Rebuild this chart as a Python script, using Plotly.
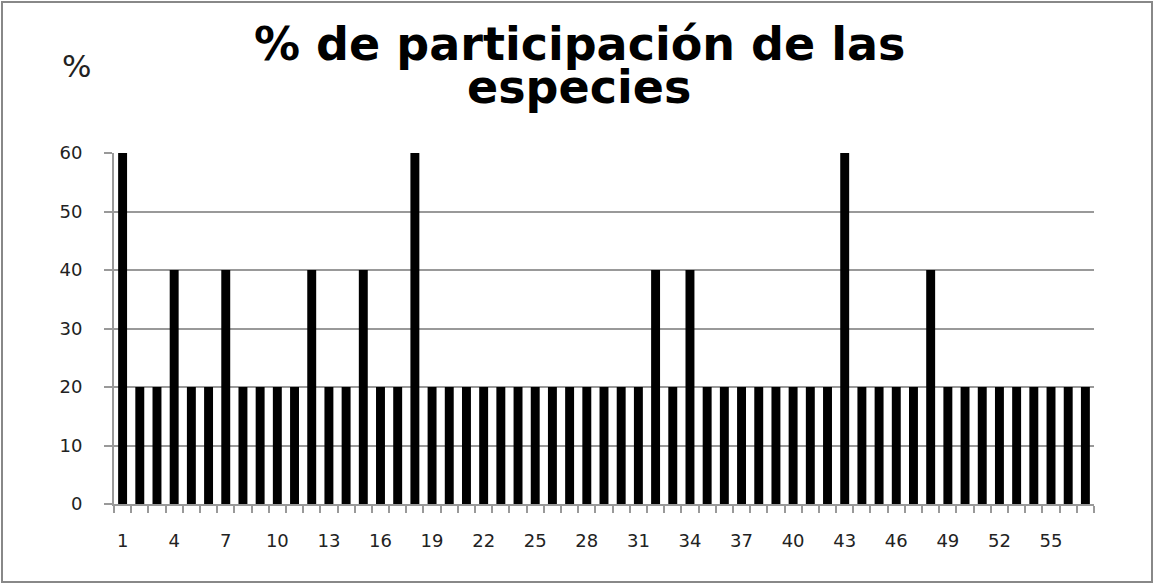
import plotly.graph_objects as go

species = list(range(1, 58))
values = [60, 20, 20, 40, 20, 20, 40, 20, 20, 20, 20, 40, 20, 20, 40, 20, 20, 60,
          20, 20, 20, 20, 20, 20, 20, 20, 20, 20, 20, 20, 20, 40, 20, 40, 20, 20,
          20, 20, 20, 20, 20, 20, 60, 20, 20, 20, 20, 40, 20, 20, 20, 20, 20, 20,
          20, 20, 20]
x_ticks = list(range(1, 56, 3))
y_ticks = [0, 10, 20, 30, 40, 50, 60]
title_lines = ["% de participación de las", "especies"]

W, H = 1154, 584
L, R, T, B = 114, 60, 153, 80
pw, ph = W - L - R, H - T - B

def px(x):
    return (x - L) / pw

def py(y):
    return (H - B - y) / ph

fig = go.Figure(go.Bar(x=species, y=values, marker=dict(color="black", line=dict(width=0)),
                       width=0.52))

grey = "#999999"
tickfont = dict(family="DejaVu Sans", size=18, color="#222222")

fig.update_layout(
    width=W, height=H,
    margin=dict(l=L, r=R, t=T, b=B, autoexpand=False),
    paper_bgcolor="white", plot_bgcolor="white",
    showlegend=False,
    xaxis=dict(range=[0.5, 57.5], tickmode="array", tickvals=x_ticks,
               ticktext=[str(v) for v in x_ticks], ticks="", showgrid=False,
               showline=True, linecolor=grey, linewidth=2, tickfont=tickfont,
               ticklabelstandoff=19, zeroline=False,
               minor=dict(tickmode="array",
                          tickvals=[s - 0.5 for s in species] + [species[-1] + 0.5],
                          ticks="outside", ticklen=7, tickcolor=grey, tickwidth=2,
                          showgrid=False)),
    yaxis=dict(range=[0, 60], tickmode="array", tickvals=y_ticks, ticks="outside",
               ticklen=8, tickcolor=grey, tickwidth=2, showgrid=True, gridcolor=grey,
               gridwidth=2, showline=True, linecolor=grey, linewidth=2,
               tickfont=tickfont, ticklabelstandoff=18, zeroline=False),
)

fig.add_annotation(text="<b>" + title_lines[0] + "</b>", xref="paper", yref="paper",
                   x=px(579), y=py(44), xanchor="center", yanchor="middle",
                   showarrow=False, font=dict(family="DejaVu Sans", size=46, color="black"))
fig.add_annotation(text="<b>" + title_lines[1] + "</b>", xref="paper", yref="paper",
                   x=px(579), y=py(87), xanchor="center", yanchor="middle",
                   showarrow=False, font=dict(family="DejaVu Sans", size=46, color="black"))
fig.add_annotation(text="%", xref="paper", yref="paper",
                   x=px(76), y=py(66), xanchor="center", yanchor="middle",
                   showarrow=False, font=dict(family="DejaVu Sans", size=31, color="#222222"))

fig.add_shape(type="rect", xref="paper", yref="paper",
              x0=px(2), x1=px(1152), y0=py(582), y1=py(2),
              line=dict(color="#888888", width=2), fillcolor="rgba(0,0,0,0)", layer="below")

fig.write_html("out.html", config={"displayModeBar": False},
               post_script="document.body.style.margin='0px';document.body.style.overflow='hidden';")
